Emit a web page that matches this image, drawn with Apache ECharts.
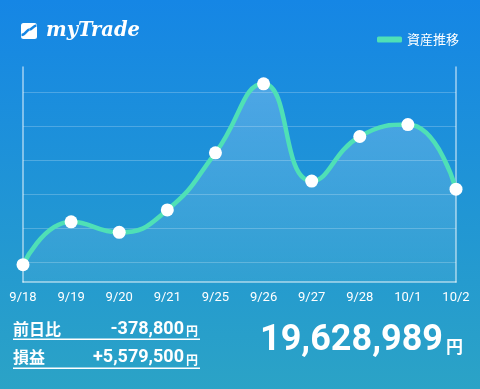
<!DOCTYPE html>
<html>
<head>
<meta charset="utf-8">
<style>
html,body{margin:0;padding:0;width:480px;height:389px;overflow:hidden;}
#chart{width:480px;height:389px;}
</style>
<script src="https://cdn.jsdelivr.net/npm/echarts@6/dist/echarts.min.js"></script>
</head>
<body>
<div id="chart"></div>
<script>
// ---- data ----
var categories = ['9/18','9/19','9/20','9/21','9/25','9/26','9/27','9/28','10/1','10/2'];
var assetValues = [16920000, 18180000, 17870000, 18530000, 20210000, 22240000, 19380000, 20690000, 21040000, 19140000];
var seriesName = '資産推移';
var axisMin = 16410000;
var axisMax = 22735000;
var gridLineCount = 5; // gaps between the six guide lines
var dayChangeLabel = '前日比';
var dayChangeValue = '-378,800';
var profitLabel = '損益';
var profitValue = '+5,579,500';
var totalValue = '19,628,989';
var yenSign = '円';

var chart = echarts.init(document.getElementById('chart'));
var mint = '#4fe0b6';
var jp = '"Noto Sans CJK JP", sans-serif';
var num = 'Roboto, "Noto Sans", sans-serif';
var frameLine = {color: 'rgba(255,255,255,0.6)', width: 1.5};

function txt(x, y, text, font, align) {
  return {type: 'text', x: x, y: y, style: {text: text, fill: '#ffffff', font: font, align: align, verticalAlign: 'middle', textAlign: align, textVerticalAlign: 'middle'}};
}

chart.setOption({
  backgroundColor: new echarts.graphic.LinearGradient(0, 0, 0, 1, [
    {offset: 0, color: '#1586e5'},
    {offset: 1, color: '#2ba3c6'}
  ]),
  animation: false,
  grid: [
    {left: 23, right: 24, top: 67, bottom: 107, containLabel: false},
    {left: 23, right: 24, top: 92, bottom: 127, containLabel: false}
  ],
  legend: {
    data: [seriesName],
    right: 16,
    top: 28,
    icon: 'roundRect',
    itemWidth: 25,
    itemHeight: 6,
    itemGap: 8,
    itemStyle: {color: mint, borderWidth: 0},
    textStyle: {color: '#ffffff', fontSize: 13, fontFamily: jp}
  },
  xAxis: [{
    type: 'category',
    data: categories,
    boundaryGap: false,
    axisLine: {show: true, lineStyle: frameLine},
    axisTick: {show: false},
    axisLabel: {color: '#ffffff', fontSize: 13, fontFamily: num, margin: 9},
    splitLine: {show: false}
  }, {
    type: 'value',
    gridIndex: 1,
    show: false
  }],
  yAxis: [{
    type: 'value',
    min: axisMin,
    max: axisMax,
    axisLine: {show: true, lineStyle: frameLine},
    axisTick: {show: false},
    axisLabel: {show: false},
    splitLine: {show: false}
  }, {
    type: 'value',
    position: 'right',
    min: axisMin,
    max: axisMax,
    axisLine: {show: true, lineStyle: frameLine},
    axisTick: {show: false},
    axisLabel: {show: false},
    splitLine: {show: false}
  }, {
    type: 'value',
    gridIndex: 1,
    min: 0,
    max: gridLineCount,
    interval: 1,
    axisLine: {show: false},
    axisTick: {show: false},
    axisLabel: {show: false},
    splitLine: {show: true, lineStyle: {color: 'rgba(255,255,255,0.22)', width: 1}}
  }],
  series: [{
    name: seriesName,
    type: 'line',
    data: assetValues,
    smooth: 0.5,
    symbol: 'circle',
    symbolSize: 13,
    showAllSymbol: true,
    z: 5,
    itemStyle: {color: '#ffffff', borderWidth: 0},
    lineStyle: {color: mint, width: 4.5},
    areaStyle: {
      origin: 'start',
      color: new echarts.graphic.LinearGradient(0, 0, 0, 1, [
        {offset: 0, color: 'rgba(255,255,255,0.32)'},
        {offset: 1, color: 'rgba(255,255,255,0.08)'}
      ])
    }
  }],
  graphic: [
    {type: 'rect', shape: {x: 21, y: 23, width: 16, height: 16, r: 2.5}, style: {fill: '#ffffff'}},
    {type: 'bezierCurve', shape: {x1: 21.5, y1: 35, cpx1: 26, cpy1: 35, cpx2: 26.5, cpy2: 29.5, x2: 29.5, y2: 29.5},
      style: {fill: 'none', stroke: '#1586e5', lineWidth: 2.5}},
    {type: 'bezierCurve', shape: {x1: 29.5, y1: 29.5, cpx1: 32.5, cpy1: 29.5, cpx2: 33, cpy2: 25.5, x2: 36.5, y2: 25.5},
      style: {fill: 'none', stroke: '#1586e5', lineWidth: 2.5}},
    txt(46, 31, 'myTrade', 'italic bold 19.5px "DejaVu Serif", serif', 'left'),

    txt(13, 328.5, dayChangeLabel, 'bold 16px ' + jp, 'left'),
    txt(184, 329, dayChangeValue, 'bold 18px ' + num, 'right'),
    txt(186, 331, yenSign, 'bold 12px ' + jp, 'left'),
    {type: 'rect', shape: {x: 13, y: 338.5, width: 187, height: 1.6}, style: {fill: '#ffffff'}},

    txt(13, 357, profitLabel, 'bold 16px ' + jp, 'left'),
    txt(184, 357.5, profitValue, 'bold 18px ' + num, 'right'),
    txt(186, 360, yenSign, 'bold 12px ' + jp, 'left'),
    {type: 'rect', shape: {x: 13, y: 367.5, width: 187, height: 1.6}, style: {fill: '#ffffff'}},

    txt(443, 341, totalValue, 'bold 36px ' + num, 'right'),
    txt(446, 347, yenSign, 'bold 17px ' + jp, 'left')
  ]
});
</script>
</body>
</html>
